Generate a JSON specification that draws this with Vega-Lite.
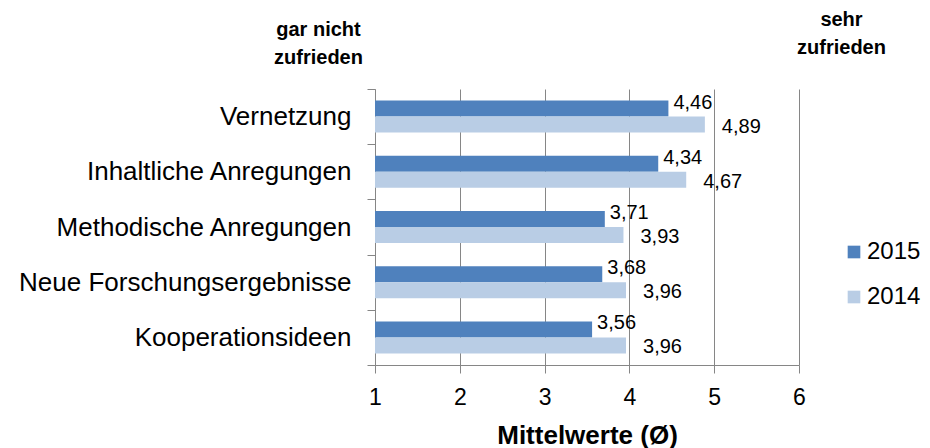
{
  "$schema": "https://vega.github.io/schema/vega-lite/v6.json",
  "width": 424,
  "height": 276,
  "autosize": {"type": "none"},
  "padding": {"left": 375, "top": 89, "right": 131, "bottom": 83},
  "background": "white",
  "config": {
    "view": {"stroke": null},
    "font": "Liberation Sans",
    "locale": {"number": {"decimal": ",", "thousands": ".", "grouping": [3], "currency": ["", " €"]}}
  },
  "data": {
    "values": [
      {"kategorie": "Vernetzung", "jahr": "2015", "wert": 4.46},
      {"kategorie": "Vernetzung", "jahr": "2014", "wert": 4.89},
      {"kategorie": "Inhaltliche Anregungen", "jahr": "2015", "wert": 4.34},
      {"kategorie": "Inhaltliche Anregungen", "jahr": "2014", "wert": 4.67},
      {"kategorie": "Methodische Anregungen", "jahr": "2015", "wert": 3.71},
      {"kategorie": "Methodische Anregungen", "jahr": "2014", "wert": 3.93},
      {"kategorie": "Neue Forschungsergebnisse", "jahr": "2015", "wert": 3.68},
      {"kategorie": "Neue Forschungsergebnisse", "jahr": "2014", "wert": 3.96},
      {"kategorie": "Kooperationsideen", "jahr": "2015", "wert": 3.56},
      {"kategorie": "Kooperationsideen", "jahr": "2014", "wert": 3.96}
    ]
  },
  "encoding": {
    "y": {
      "field": "kategorie",
      "type": "nominal",
      "sort": null,
      "scale": {"paddingInner": 0, "paddingOuter": 0},
      "axis": {
        "title": null,
        "domainColor": "#868686",
        "tickColor": "#868686",
        "tickSize": 8,
        "tickBand": "extent",
        "labelFontSize": 26,
        "labelColor": "black",
        "labelPadding": 16,
        "labelLimit": 400,
        "encode": {"ticks": {"update": {"x": {"value": 8}}}}
      }
    },
    "yOffset": {
      "field": "jahr",
      "type": "nominal",
      "sort": ["2015", "2014"],
      "scale": {"paddingInner": 0, "paddingOuter": 0.725}
    }
  },
  "layer": [
    {
      "mark": {"type": "bar"},
      "encoding": {
        "x": {
          "field": "wert",
          "type": "quantitative",
          "scale": {"domain": [1, 6], "nice": false, "zero": false},
          "axis": {
            "title": "Mittelwerte (Ø)",
            "values": [1, 2, 3, 4, 5, 6],
            "format": "d",
            "grid": true,
            "gridColor": "#868686",
            "gridWidth": 1,
            "domainColor": "#868686",
            "tickColor": "#868686",
            "tickSize": 8,
            "labelFontSize": 23,
            "labelColor": "black",
            "labelPadding": 13,
            "labelFlush": false,
            "titleFontSize": 26,
            "titleFontWeight": "bold",
            "titleColor": "black",
            "titlePadding": 13
          }
        },
        "x2": {"datum": 1},
        "color": {
          "field": "jahr",
          "type": "nominal",
          "scale": {"domain": ["2015", "2014"], "range": ["#4F81BD", "#B9CDE5"]},
          "legend": {
            "title": null,
            "orient": "none",
            "legendX": 467,
            "legendY": 151,
            "padding": 0,
            "labelFontSize": 24,
            "labelColor": "black",
            "symbolType": "square",
            "symbolSize": 160,
            "symbolStrokeWidth": 0,
            "rowPadding": 21,
            "labelOffset": 1
          }
        }
      }
    },
    {
      "transform": [{"filter": "datum.jahr == '2015'"}],
      "mark": {"type": "text", "align": "left", "baseline": "middle", "dx": 5, "dy": -6, "fontSize": 20, "color": "black"},
      "encoding": {
        "x": {
          "field": "wert",
          "type": "quantitative",
          "axis": {
            "orient": "top",
            "values": [1, 6],
            "domain": false,
            "ticks": false,
            "grid": false,
            "title": null,
            "labelExpr": "datum.value == 1 ? ['gar nicht', 'zufrieden'] : ['sehr', 'zufrieden']",
            "labelFontSize": 20,
            "labelFontWeight": "bold",
            "labelColor": "black",
            "labelLineHeight": 28,
            "labelAlign": "center",
            "labelOffset": {"expr": "datum.value == 1 ? -57 : 42"},
            "labelPadding": {"expr": "datum.value == 1 ? 50 : 60"},
            "labelFlush": false,
            "labelOverlap": false,
            "labelBound": false
          }
        },
        "text": {"field": "wert", "type": "quantitative", "format": ".2f"}
      }
    },
    {
      "transform": [{"filter": "datum.jahr == '2014'"}],
      "mark": {"type": "text", "align": "left", "baseline": "middle", "dx": 17, "dy": 2, "fontSize": 20, "color": "black"},
      "encoding": {
        "x": {"field": "wert", "type": "quantitative", "axis": null},
        "text": {"field": "wert", "type": "quantitative", "format": ".2f"}
      }
    }
  ],
  "resolve": {"axis": {"x": "independent"}}
}
